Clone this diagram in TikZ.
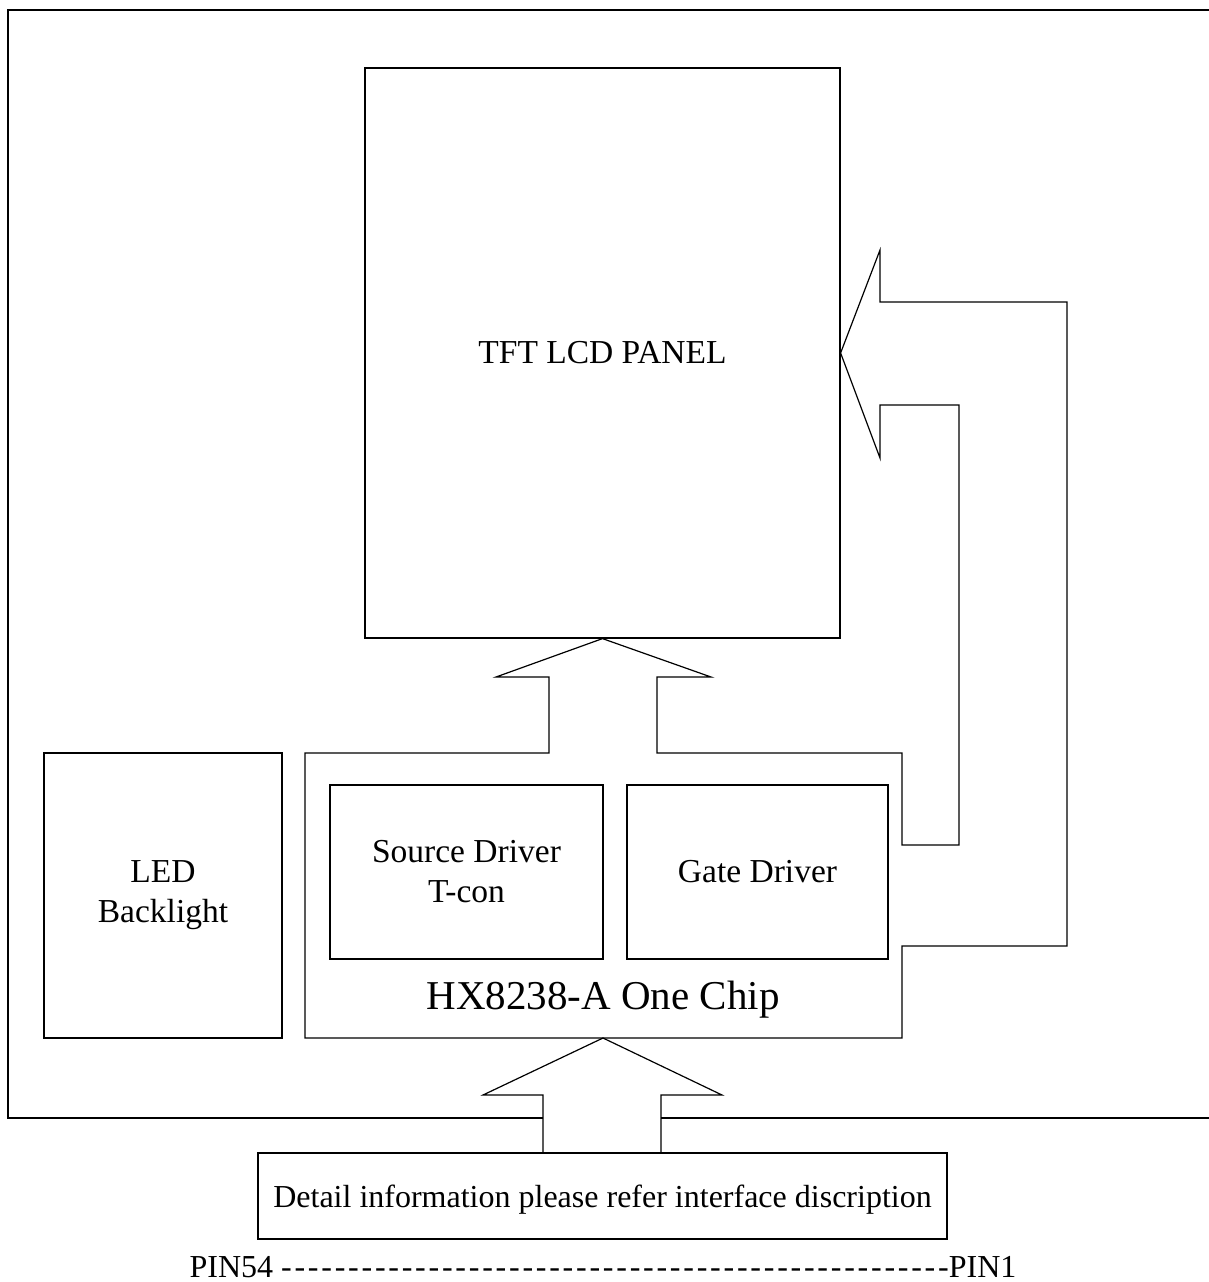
\documentclass[tikz,border=0pt]{standalone}
\usepackage{fontspec}
\setmainfont{Liberation Serif}

\newcommand\lbl{\fontsize{33.5}{40}\selectfont}
\newcommand\smlbl{\fontsize{32}{40}\selectfont}
\newcommand\chiplbl{\fontsize{41}{48}\selectfont}

\begin{document}
\begin{tikzpicture}[x=1pt, y=-1pt, line width=1.2pt,
    blk/.style={draw, inner sep=0pt, align=center, font=\lbl}]
  \useasboundingbox (0,0) rectangle (1208,1282);

  % outer frame
  \draw (543,1118) -- (8,1118) -- (8,10) -- (1210,10);
  \draw (661,1118) -- (1210,1118);

  \node[blk, minimum width=475pt, minimum height=570pt] (panel) at (602.5,353) {TFT LCD PANEL};

  \node[blk, minimum width=238pt, minimum height=285pt] (led) at (163,895.5) {LED\\Backlight};

  \node[blk, minimum width=273pt, minimum height=174pt] (src) at (466.5,872) {Source Driver\\T-con};
  \node[blk, minimum width=261pt, minimum height=174pt] (gate) at (757.5,872) {Gate Driver};

  \node[font=\chiplbl, anchor=base, inner sep=0pt] (chip) at (603,1009) {HX8238-A One Chip};
  \coordinate (chipS) at (603,1038);

  \node[blk, font=\smlbl, text height=22pt, text depth=0pt, minimum width=689pt, minimum height=86pt] (detail) at (602.5,1196)
    {Detail information please refer interface discription};

  \node[font=\smlbl, anchor=base, inner sep=0pt] (pins) at (603,1277)
    {PIN54 {\addfontfeature{Ligatures=TeXOff, LetterSpace=8.6}--------------------------------------------------}PIN1};

  % chip outline with the two arrows into the panel
  \draw (panel.south) -- (711,677) -- (657,677) -- (657,753) -- (902,753)
    -- (902,845) -- (959,845) -- (959,405) -- (880,405) -- (880,458)
    -- (panel.east) -- (880,250) -- (880,302) -- (1067,302) -- (1067,946)
    -- (902,946) -- (902,1038) -- (305,1038) -- (305,753) -- (549,753)
    -- (549,677) -- (496,677) -- cycle;

  % arrow from the interface
  \draw (543,1153) -- (543,1095) -- (483,1095) -- (chipS) -- (722,1095)
    -- (661,1095) -- (661,1153);
\end{tikzpicture}
\end{document}
